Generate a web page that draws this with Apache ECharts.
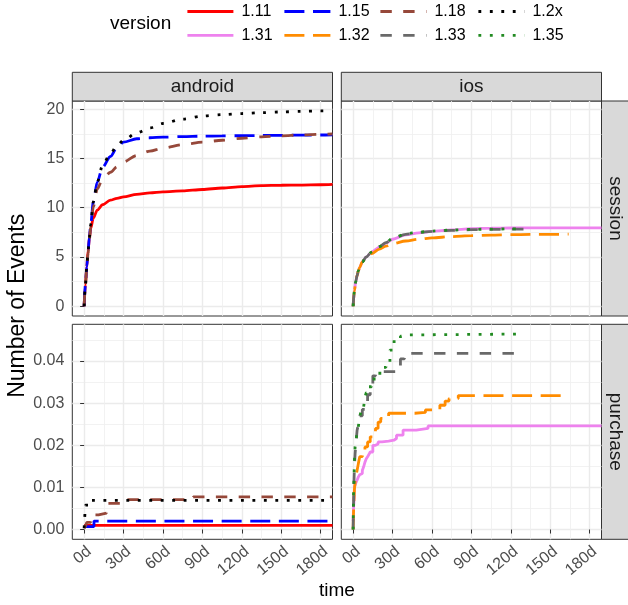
<!DOCTYPE html>
<html><head><meta charset="utf-8">
<script src="https://cdn.jsdelivr.net/npm/echarts@6/dist/echarts.min.js"></script>
<style>html,body{margin:0;padding:0;background:#fff}#c{width:628px;height:605px}</style>
</head><body><div id="c"></div>
<script>
// ---------- categories / styles ----------
const versions = ['1.11','1.15','1.18','1.2x','1.31','1.32','1.33','1.35'];
const colors   = ['#FF0000','#0000FF','#96483A','#000000','#EE82EE','#FF8C00','#696969','#228B22'];
const dashes   = ['solid',[20,8.6],[11.4,11.4],[2.86,8.6],'solid',[20,8.6],[11.4,11.4],[2.86,8.6]];
const platforms = ['android','ios'];
const metrics   = ['session','purchase'];

// ---------- tick labels ----------
const xTicks = [0,30,60,90,120,150,180];
const xMinor = [15,45,75,105,135,165];
const yTicksSession  = [0,5,10,15,20];
const yMinorSession  = [2.5,7.5,12.5,17.5];
const yTicksPurchase = [0,0.01,0.02,0.03,0.04];
const yMinorPurchase = [0.005,0.015,0.025,0.035,0.045];
const xLim = [-9,189];

// ---------- android / session ----------
const daysAS   = [0,1,2,3,4,5,7,10,14,20,25,30,40,50,60,75,90,105,120,135,150,165,180,189];
const aS_111 = [0,2.2,4.0,5.6,6.9,7.9,8.95,9.75,10.3,10.76,10.95,11.1,11.35,11.5,11.6,11.7,11.85,12.0,12.15,12.25,12.28,12.3,12.33,12.36];
const aS_115 = [0,2.2,4.0,5.6,7.0,8.3,10.6,12.6,14.1,15.2,16.1,16.65,17.0,17.1,17.16,17.22,17.26,17.29,17.31,17.33,17.35,17.37,17.38,17.4];
const aS_118 = [0,2.1,3.9,5.4,6.8,8.0,10.1,11.9,12.9,13.6,14.15,14.65,15.3,15.75,16.05,16.4,16.65,16.85,17.05,17.2,17.3,17.38,17.45,17.48];
const aS_12x = [0,2.2,4.0,5.6,7.0,8.3,10.6,12.6,14.3,15.5,16.3,16.85,17.6,18.1,18.55,19.0,19.3,19.45,19.56,19.65,19.72,19.78,19.82,19.84];

// ---------- ios / session ----------
const daysIS_131 = [0,1,2,3,4,5,7,10,14,20,25,30,40,50,60,75,90,105,120,135,150,165,180,189];
const iS_131 = [0,1.6,2.5,3.1,3.6,3.95,4.5,5.0,5.5,6.0,6.4,6.8,7.25,7.45,7.6,7.75,7.87,7.92,7.94,7.95,7.95,7.96,7.96,7.96];
const daysIS_132 = [0,1,2,3,4,5,7,10,14,20,25,30,40,50,60,75,90,105,120,135,150,164];
const iS_132 = [0,1.6,2.5,3.1,3.6,3.95,4.5,4.95,5.35,5.8,6.1,6.35,6.62,6.8,6.93,7.07,7.17,7.22,7.26,7.29,7.3,7.31];
const daysIS_133 = [0,1,2,3,4,5,7,10,14,20,25,30,40,50,60,75,90,105,120,131];
const iS_133 = [0,1.6,2.5,3.1,3.6,3.95,4.5,5.0,5.5,6.05,6.45,6.85,7.3,7.5,7.6,7.7,7.77,7.8,7.82,7.83];
const daysIS_135 = [0,1,2,3,4,5,7,10,14,20,25,30,40,50,60,75,90,105,120,125];
const iS_135 = [0,1.6,2.5,3.1,3.6,3.95,4.5,5.0,5.5,6.05,6.45,6.9,7.35,7.52,7.63,7.73,7.8,7.83,7.85,7.85];

// ---------- android / purchase ----------
const daysAP_111 = [0,189];
const aP_111 = [0.001,0.001];
const daysAP_115 = [0,7.5,189];
const aP_115 = [0.0007,0.002,0.002];
const daysAP_118 = [0,1,2,5,8,11,17,29,83,189];
const aP_118 = [0.0003,0.0008,0.0017,0.0027,0.0035,0.0039,0.0062,0.0071,0.00775,0.00775];
const daysAP_12x = [0,0.5,1,4,189];
const aP_12x = [0.0003,0.0032,0.0058,0.0069,0.0069];

// ---------- ios / purchase ----------
const daysIP_131 = [0,0.3,0.7,1,2,3,4,5,6,7,8,9,10,11,12,13,15,17,19,22,27,31,33,38,48,57,189];
const iP_131 = [0.002,0.005,0.007,0.0101,0.011,0.0117,0.0125,0.013,0.0133,0.014,0.0149,0.016,0.0168,0.0173,0.0178,0.0184,0.02,0.0203,0.0208,0.021,0.0212,0.0216,0.0224,0.0236,0.024,0.0246,0.0246];
const daysIP_132 = [0,0.3,1,2,3,4,5,7,9,11,13,15,17,19,21,27,47,55,66,70,73,80,164];
const iP_132 = [0,0.004,0.0096,0.0125,0.014,0.0157,0.0173,0.0185,0.0196,0.0208,0.022,0.0232,0.024,0.0255,0.0264,0.0276,0.0278,0.0284,0.0295,0.0305,0.0311,0.0318,0.0318];
const daysIP_133 = [0,0.3,0.7,1,1.5,2,3,4,5,7,9,11,13,15,17,36,39,42,130];
const iP_133 = [0,0.006,0.012,0.015,0.018,0.02,0.0235,0.025,0.027,0.0285,0.03,0.032,0.0345,0.0365,0.0375,0.0405,0.041,0.0418,0.0418];
const daysIP_135 = [0,0.3,0.7,1,1.5,2,3,4,5,6,8,9,10,12,14,16,18,22,25,28,30,33,36,40,43,125];
const iP_135 = [0,0.0086,0.0125,0.0165,0.0196,0.021,0.0228,0.0245,0.0268,0.028,0.0291,0.0315,0.0325,0.0339,0.035,0.0363,0.0371,0.0385,0.0394,0.0426,0.0446,0.0452,0.0459,0.0462,0.0464,0.0464];

// ---------- series table (panel = row*2+col) ----------
const lines = [
  [0,'1.11',daysAS,aS_111,false],[0,'1.15',daysAS,aS_115,false],[0,'1.18',daysAS,aS_118,false],[0,'1.2x',daysAS,aS_12x,false],
  [1,'1.31',daysIS_131,iS_131,false],[1,'1.32',daysIS_132,iS_132,false],[1,'1.33',daysIS_133,iS_133,false],[1,'1.35',daysIS_135,iS_135,false],
  [2,'1.11',daysAP_111,aP_111,true],[2,'1.15',daysAP_115,aP_115,true],[2,'1.18',daysAP_118,aP_118,true],[2,'1.2x',daysAP_12x,aP_12x,true],
  [3,'1.31',daysIP_131,iP_131,true],[3,'1.32',daysIP_132,iP_132,true],[3,'1.33',daysIP_133,iP_133,true],[3,'1.35',daysIP_135,iP_135,true]
];

// ---------- layout ----------
const FONT = '"Liberation Sans", Arial, Helvetica, sans-serif';
const panelLeft = [72.3, 341.3], panelTop = [101, 324.3], panelW = 260.2, panelH = 215;
const stripH = 28.7, stripRightW = 27;

// y limits per row from data with 5% expansion (ggplot default)
function rowLimits(row){
  let lo = Infinity, hi = -Infinity;
  lines.forEach(l => { if (Math.floor(l[0]/2) === row) l[3].forEach(v => { lo = Math.min(lo,v); hi = Math.max(hi,v); }); });
  const pad = (hi-lo)*0.05;
  return [lo-pad, hi+pad];
}
const yLims = [rowLimits(0), rowLimits(1)];

const grid = [], xAxis = [], yAxis = [], series = [];
for (let g=0; g<4; g++){
  const row = Math.floor(g/2), col = g%2;
  grid.push({left:panelLeft[col], top:panelTop[row], width:panelW, height:panelH,
    show:true, backgroundColor:'#fff', borderColor:'#333333', borderWidth:1});
  const yT = row===0 ? yTicksSession : yTicksPurchase;
  const yM = row===0 ? yMinorSession : yMinorPurchase;
  xAxis.push({type:'value', gridIndex:g, min:xLim[0], max:xLim[1],
    axisLine:{show:false},
    axisTick:{show:row===1, customValues:xTicks, length:4, lineStyle:{color:'#333333', width:1}},
    axisLabel:{show:row===1, customValues:xTicks, formatter:v=>v+'d', rotate:40, margin:4,
      verticalAlign:'top', fontSize:16, color:'#4D4D4D', fontFamily:FONT},
    splitLine:{show:true, lineStyle:{color:'#EBEBEB', width:1.4}}});
  xAxis.push({type:'value', gridIndex:g, position:'top', min:xLim[0], max:xLim[1],
    axisLine:{show:false}, axisTick:{show:false, customValues:xMinor},
    axisLabel:{show:false, customValues:xMinor},
    splitLine:{show:true, lineStyle:{color:'#EFEFEF', width:0.8}}});
  yAxis.push({type:'value', gridIndex:g, min:yLims[row][0], max:yLims[row][1],
    axisLine:{show:false},
    axisTick:{show:col===0, customValues:yT, length:4, lineStyle:{color:'#333333', width:1}},
    axisLabel:{show:col===0, customValues:yT, margin:8, fontSize:16, color:'#4D4D4D', fontFamily:FONT,
      formatter: v => row===0 ? String(v) : v.toFixed(2)},
    splitLine:{show:true, lineStyle:{color:'#EBEBEB', width:1.4}}});
  yAxis.push({type:'value', gridIndex:g, position:'right', min:yLims[row][0], max:yLims[row][1],
    axisLine:{show:false}, axisTick:{show:false, customValues:yM},
    axisLabel:{show:false, customValues:yM},
    splitLine:{show:true, lineStyle:{color:'#EFEFEF', width:0.8}}});
}

lines.forEach(([g, ver, days, vals, isStep]) => {
  const k = versions.indexOf(ver);
  series.push({
    type:'line', name:ver, xAxisIndex:2*g, yAxisIndex:2*g,
    data: days.map((d,i)=>[d, vals[i]]),
    symbol:'none', step: isStep ? 'end' : false,
    smooth: isStep ? false : 0.3, smoothMonotone:'x',
    lineStyle:{color:colors[k], width:2.8, type:dashes[k], cap:'butt'},
    itemStyle:{color:colors[k]}, z: 3, animation:false, silent:true
  });
});

// legends (one per key)
const keyX = [186, 283, 379, 477];
const legend = versions.map((v,k) => ({
  data:[v], left:keyX[k%4], top: k<4 ? 3.5 : 27.3, padding:0,
  itemWidth:46, itemHeight:16, selectedMode:false,
  textStyle:{fontSize:16, color:'#000', fontFamily:FONT, padding:[0,0,0,3]},
  itemStyle:{color:'rgba(0,0,0,0)', borderWidth:0, opacity:0},
  lineStyle:{color:colors[k], width:2.8, type:dashes[k], cap:'butt', opacity:1}
}));

// strips and titles
const graphic = [];
platforms.forEach((p,c) => {
  graphic.push({type:'rect', shape:{x:panelLeft[c], y:panelTop[0]-stripH, width:panelW, height:stripH},
    style:{fill:'#D9D9D9', stroke:'#333333', lineWidth:1}});
  graphic.push({type:'text', x:panelLeft[c]+panelW/2, y:panelTop[0]-stripH/2,
    style:{text:p, fill:'#1A1A1A', fontSize:19, fontFamily:FONT, align:'center', verticalAlign:'middle'}});
});
metrics.forEach((m,r) => {
  const x0 = panelLeft[1]+panelW;
  graphic.push({type:'rect', shape:{x:x0, y:panelTop[r], width:stripRightW, height:panelH},
    style:{fill:'#D9D9D9', stroke:'#333333', lineWidth:1}});
  graphic.push({type:'text', x:x0+stripRightW/2, y:panelTop[r]+panelH/2, rotation:-Math.PI/2,
    style:{text:m, fill:'#1A1A1A', fontSize:19, fontFamily:FONT, align:'center', verticalAlign:'middle'}});
});
graphic.push({type:'text', x:110, y:24, style:{text:'version', fill:'#000', fontSize:19, fontFamily:FONT, align:'left', verticalAlign:'middle'}});
graphic.push({type:'text', x:(panelLeft[0]+panelLeft[1]+panelW)/2, y:591, style:{text:'time', fill:'#000', fontSize:19, fontFamily:FONT, align:'center', verticalAlign:'middle'}});
graphic.push({type:'text', x:18, y:(panelTop[0]-stripH+panelTop[1]+panelH)/2, rotation:Math.PI/2,
  style:{text:'Number of Events', fill:'#000', fontSize:23, fontFamily:FONT, align:'center', verticalAlign:'middle'}});

const chart = echarts.init(document.getElementById('c'), null, {renderer:'canvas'});
chart.setOption({animation:false, backgroundColor:'#fff', grid, xAxis, yAxis, series, legend, graphic});
</script></body></html>
